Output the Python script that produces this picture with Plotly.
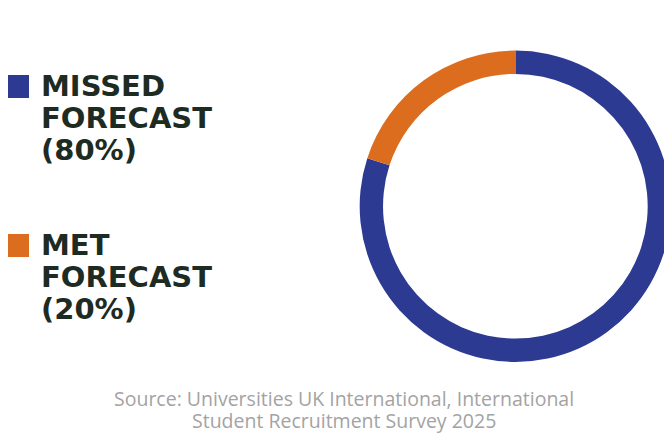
import plotly.graph_objects as go

legend_lines = [["MISSED", "FORECAST", "(80%)"], ["MET", "FORECAST", "(20%)"]]
labels = ["Missed forecast", "Met forecast"]
values = [80, 20]
colors = ["#2c3a91", "#dc6d1f"]
source_lines = ["Source: Universities UK International, International",
                "Student Recruitment Survey 2025"]

fig = go.Figure()
fig.add_trace(go.Pie(
    values=values, labels=labels, hole=0.85, sort=False, direction="clockwise",
    rotation=0, marker=dict(colors=colors, line=dict(width=0)),
    textinfo="none", hoverinfo="none", showlegend=False,
    domain=dict(x=[0.52, 0.99], y=[0.21, 0.905]),
))

# legend built by hand: square + bold text lines
for i, (lines, col) in enumerate(zip(legend_lines, colors)):
    mid = 78 + i * 159
    fig.add_shape(type="rect", xref="paper", yref="paper",
                  x0=0, x1=21 / 672, y0=1 - (mid + 12) / 448, y1=1 - (mid - 11) / 448,
                  fillcolor=col, line=dict(width=0))
    for j, txt in enumerate(lines):
        fig.add_annotation(text=txt, xref="paper", yref="paper", x=31 / 672,
                           y=1 - (mid + 32 * j) / 448, xanchor="left", yanchor="middle",
                           showarrow=False,
                           font=dict(family="DejaVu Sans", size=29, color="#1d2b22", weight="bold"))

for j, txt in enumerate(source_lines):
    fig.add_annotation(text=txt, xref="paper", yref="paper", x=336 / 672, y=1 - (390 + 22 * j) / 448,
                       xanchor="center", yanchor="middle", showarrow=False,
                       font=dict(family="Open Sans", size=19.5, color="#a3a3a3"))

fig.update_layout(width=672, height=448, margin=dict(l=0, r=0, t=0, b=0),
                  paper_bgcolor="white", plot_bgcolor="white")
fig.write_html("out.html")
